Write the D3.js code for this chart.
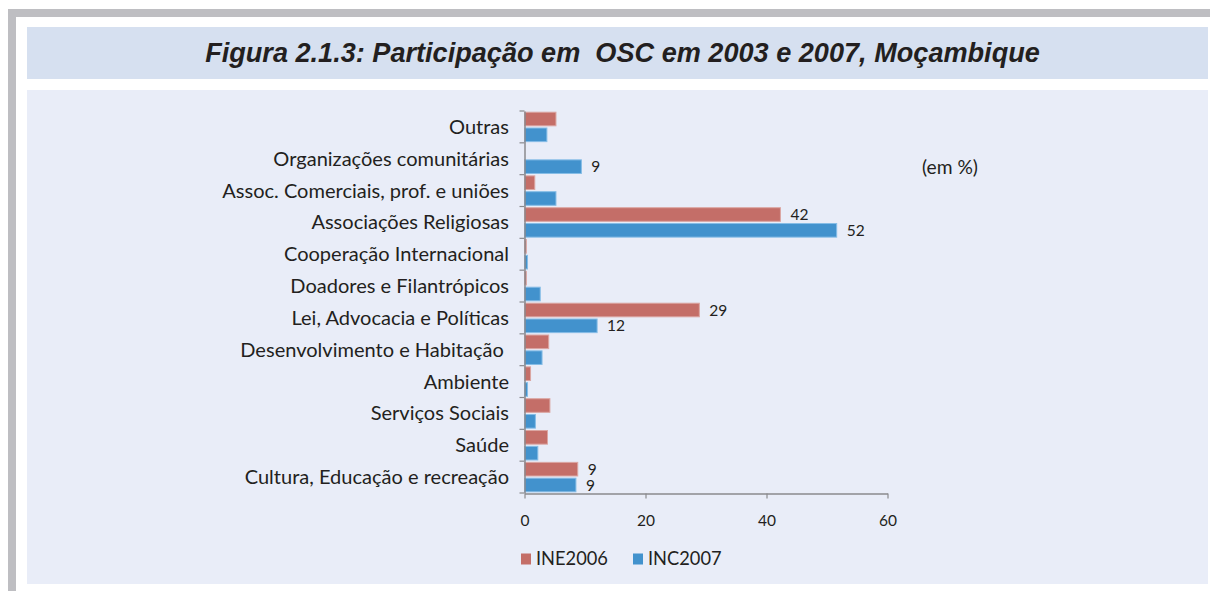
<!DOCTYPE html>
<html><head><meta charset="utf-8">
<script src="https://cdn.jsdelivr.net/npm/d3@7"></script>
<style>html,body{margin:0;padding:0;background:#fff;overflow:hidden}</style>
</head><body>
<svg id="c" width="1210" height="591"></svg>
<script>
const categories = ["Outras","Organizações comunitárias","Assoc. Comerciais, prof. e uniões","Associações Religiosas","Cooperação Internacional","Doadores e Filantrópicos","Lei, Advocacia e Políticas","Desenvolvimento e Habitação ","Ambiente","Serviços Sociais","Saúde","Cultura, Educação e recreação"];
const seriesNames = ["INE2006","INC2007"];
const ine2006 = [5.2, 0, 1.7, 42.3, 0.3, 0.3, 28.9, 4.0, 1.0, 4.2, 3.8, 8.8];
const inc2007 = [3.7, 9.4, 5.2, 51.6, 0.5, 2.6, 12.0, 2.9, 0.5, 1.8, 2.2, 8.5];
const ine2006Labels = [null,null,null,"42",null,null,"29",null,null,null,null,"9"];
const inc2007Labels = [null,"9",null,"52",null,null,"12",null,null,null,null,"9"];
const xTicks = [0,20,40,60];
const titleText = "Figura 2.1.3: Participação em  OSC em 2003 e 2007, Moçambique";
const unitText = "(em %)";

const colors = {INE2006:"#c46e68", INC2007:"#4292cd"};
const strokes = {INE2006:"#dba6a2", INC2007:"#86bde6"};
const textCol = "#231f20";
const axisCol = "#8a8a8e";
const FONT = "Lato, 'Open Sans', sans-serif";

const svg = d3.select("#c");

// frame
svg.append("rect").attr("x",8).attr("y",9).attr("width",1202).attr("height",8).attr("fill","#bebec2");
svg.append("rect").attr("x",8).attr("y",9).attr("width",8).attr("height",582).attr("fill","#bebec2");
svg.append("rect").attr("x",27).attr("y",27).attr("width",1181).attr("height",52).attr("fill","#d6e0f0");
svg.append("rect").attr("x",27).attr("y",90).attr("width",1181).attr("height",494).attr("fill","#e9edf8");

function fit(sel, target, base){
  const w = sel.node().getComputedTextLength();
  sel.attr("font-size", base*target/w);
}

const title = svg.append("text").attr("x",622.5).attr("y",62).attr("text-anchor","middle")
  .attr("font-family","'Liberation Sans', Arial, sans-serif").attr("font-weight","bold").attr("font-style","italic")
  .attr("font-size",24).attr("fill","#231f20").style("white-space","pre").text(titleText);
fit(title, 835, 24);

const x = d3.scaleLinear().domain([0,60]).range([524.5,887.5]);
const y = d3.scaleBand().domain(categories).range([111,493]).padding(0);
const yInner = d3.scaleBand().domain(seriesNames).range([1.2, y.bandwidth()-1.2]).paddingInner(0.14);

const data = categories.map((c,i)=>({cat:c, vals:[
  {s:"INE2006", v:ine2006[i], lab:ine2006Labels[i]},
  {s:"INC2007", v:inc2007[i], lab:inc2007Labels[i]}]}));

const g = svg.append("g");
const groups = g.selectAll("g.cat").data(data).join("g").attr("transform",d=>`translate(0,${y(d.cat)})`);
groups.selectAll("rect").data(d=>d.vals.filter(v=>v.v>0)).join("rect")
  .attr("x",x(0)).attr("y",d=>yInner(d.s)).attr("width",d=>x(d.v)-x(0)).attr("height",yInner.bandwidth())
  .attr("fill",d=>colors[d.s]).attr("stroke",d=>strokes[d.s]).attr("stroke-width",1);
const lbls = groups.selectAll("text").data(d=>d.vals.filter(v=>v.lab)).join("text")
  .attr("x",d=>x(d.v)+10).attr("y",d=>yInner(d.s)+yInner.bandwidth()/2).attr("dy","0.36em")
  .attr("font-family",FONT).attr("font-size",15.5).attr("fill",textCol).text(d=>d.lab);

// y axis
const yAxis = d3.axisLeft(y).tickSize(0).tickFormat("");
const ya = svg.append("g").attr("transform",`translate(${x(0)},0)`).call(yAxis);
ya.select(".domain").attr("stroke",axisCol).attr("stroke-width",1.5);
// boundary ticks
const bounds = categories.map(c=>y(c)).concat([y.range()[1]]);
svg.append("g").selectAll("line").data(bounds).join("line")
  .attr("x1",x(0)-5).attr("x2",x(0)).attr("y1",d=>d).attr("y2",d=>d).attr("stroke",axisCol).attr("stroke-width",1.2);

// category labels
const catLabels = svg.append("g").selectAll("text").data(categories).join("text")
  .attr("x",509).attr("y",d=>y(d)+y.bandwidth()/2).attr("dy","0.35em").attr("text-anchor","end")
  .attr("font-family",FONT).attr("font-size",17).attr("fill",textCol).style("white-space","pre").text(d=>d);
{
  const ref = catLabels.filter(d=>d==="Assoc. Comerciais, prof. e uniões");
  const w = ref.node().getComputedTextLength();
  catLabels.attr("font-size",17*287/w);
}

// x axis
const xAxis = d3.axisBottom(x).tickValues(xTicks).tickSize(5).tickPadding(16).tickSizeOuter(0);
const xa = svg.append("g").attr("transform",`translate(0,493.5)`).call(xAxis);
xa.select(".domain").attr("stroke",axisCol).attr("stroke-width",1.5);
xa.selectAll(".tick line").attr("stroke",axisCol).attr("stroke-width",1.2);
xa.selectAll(".tick text").attr("font-family",FONT).attr("font-size",15.5).attr("fill",textCol);

// unit
const unit = svg.append("text").attr("x",922).attr("y",167).attr("dy","0.35em")
  .attr("font-family",FONT).attr("font-size",16).attr("fill",textCol).text(unitText);
fit(unit, 56, 16);

// legend
const legendX = [521, 633];
const leg = svg.append("g").selectAll("g").data(seriesNames).join("g")
  .attr("transform",(d,i)=>`translate(${legendX[i]},559)`);
leg.append("rect").attr("x",0).attr("y",-5.5).attr("width",10).attr("height",11).attr("fill",d=>colors[d]);
const legT = leg.append("text").attr("x",15).attr("dy","0.35em").attr("font-family",FONT).attr("font-size",18).attr("fill",textCol).text(d=>d);
{
  const w = legT.filter(d=>d==="INE2006").node().getComputedTextLength();
  legT.attr("font-size",18*72/w);
}
</script>
</body></html>
